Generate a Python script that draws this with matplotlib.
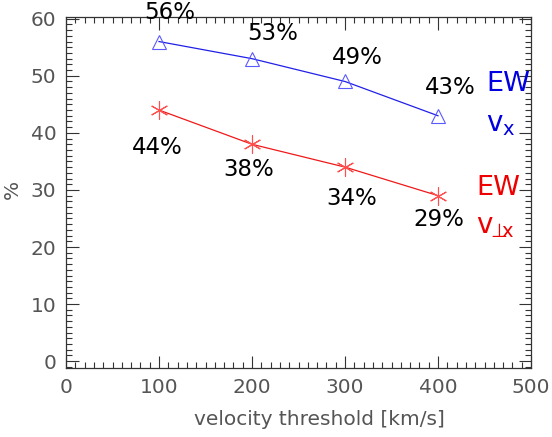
import matplotlib
matplotlib.use("Agg")
import matplotlib.pyplot as plt
from matplotlib.ticker import MultipleLocator

thresholds = [100, 200, 300, 400]
ew_vx = [56, 53, 49, 43]
ew_vperp = [44, 38, 34, 29]
labels_vx = ["56%", "53%", "49%", "43%"]
labels_vperp = ["44%", "38%", "34%", "29%"]

# label offsets from each point, in pixels
offs_vx = [(11, 29), (21, 25), (12, 24), (12, 28)]
offs_vperp = [(-2, -37), (-3, -25), (7, -31), (1, -24)]

fig = plt.figure(figsize=(5.52, 4.37), dpi=100)
ax = fig.add_axes([66 / 552, 69 / 437, 465 / 552, 351 / 437])

ax.plot(thresholds, ew_vx, color="#2020e8", lw=0.9)
ax.plot(thresholds, ew_vx, ls="none", marker="^", ms=10, mfc="none",
        mec="#5a5aff", mew=0.8)
ax.plot(thresholds, ew_vperp, color="#f01818", lw=0.9)
ax.plot(thresholds, ew_vperp, ls="none", marker=(6, 2, 0), ms=13,
        mec="#ff5050", mew=0.8)

for x, y, s, o in zip(thresholds, ew_vx, labels_vx, offs_vx):
    ax.annotate(s, (x, y), xytext=o, textcoords="offset pixels",
                ha="center", va="center", fontsize=16.5, color="black",
                annotation_clip=False)
for x, y, s, o in zip(thresholds, ew_vperp, labels_vperp, offs_vperp):
    ax.annotate(s, (x, y), xytext=o, textcoords="offset pixels",
                ha="center", va="center", fontsize=16.5, color="black",
                annotation_clip=False)

ax.text(476, 48.5, "EW", color="#0000e0", fontsize=19.5,
        ha="center", va="center", clip_on=False)
ax.text(467, 41.5, r"$\mathregular{v_x}$", color="#0000e0", fontsize=20,
        ha="center", va="center", clip_on=False)
ax.text(465, 30.3, "EW", color="#ee0000", fontsize=19.5,
        ha="center", va="center", clip_on=False)
ax.text(462, 23.6, r"$\mathregular{v_{\!\!\bot\!\!\!x}}$", color="#ee0000",
        fontsize=20, ha="center", va="center", clip_on=False)

ax.set_xlim(0, 500)
ax.set_ylim(-1.2, 60.3)
ax.xaxis.set_major_locator(MultipleLocator(100))
ax.xaxis.set_minor_locator(MultipleLocator(10))
ax.yaxis.set_major_locator(MultipleLocator(10))
ax.yaxis.set_minor_locator(MultipleLocator(1))
ax.tick_params(which="both", direction="in", top=True, right=True,
               color="#333333", width=0.8)
ax.tick_params(which="major", length=9, pad=7, labelsize=14.5,
               labelcolor="#555555")
ax.tick_params(which="minor", length=4.5)
for sp in ax.spines.values():
    sp.set_color("#333333")
    sp.set_linewidth(0.9)

ax.set_xlabel("velocity threshold [km/s]", fontsize=14.5, color="#555555")
ax.xaxis.set_label_coords(0.545, -0.12)
ax.set_ylabel("%", fontsize=14.5, color="#555555")
ax.yaxis.set_label_coords(-0.095, 0.51)

fig.savefig("out.png", dpi=100)
